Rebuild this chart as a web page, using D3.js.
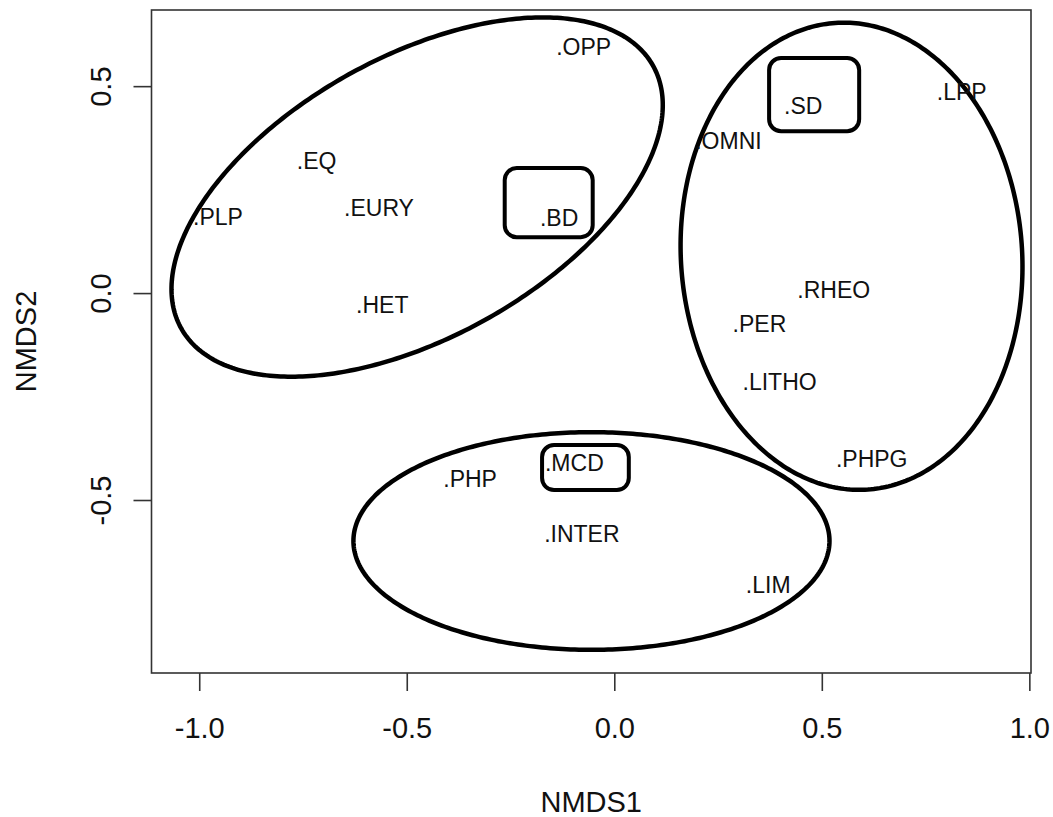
<!DOCTYPE html>
<html>
<head>
<meta charset="utf-8">
<script src="https://cdn.jsdelivr.net/npm/d3@7"></script>
<style>
  html, body { margin: 0; padding: 0; background: #fff; }
  svg { display: block; font-family: "Liberation Sans", Arial, Helvetica, sans-serif; }
</style>
</head>
<body>
<svg id="chart" width="1053" height="817"></svg>
<script>
// NMDS ordination of trait categories
const traitLabels = [".OPP", ".EQ", ".PLP", ".EURY", ".HET", ".BD", ".SD", ".LPP", ".OMNI",
                     ".RHEO", ".PER", ".LITHO", ".PHPG", ".PHP", ".MCD", ".INTER", ".LIM"];
const nmds1 = [-0.140, -0.765, -1.015, -0.651, -0.622, -0.179, 0.409, 0.777, 0.195,
               0.441, 0.285, 0.309, 0.534, -0.412, -0.167, -0.169, 0.317];
const nmds2 = [0.595, 0.319, 0.184, 0.207, -0.029, 0.181, 0.453, 0.486, 0.367,
               0.007, -0.075, -0.215, -0.401, -0.449, -0.411, -0.582, -0.705];

// group ellipses: centre, semi-axes (NMDS units), rotation (degrees)
const ellipseCx = [-0.475, 0.5716, -0.055];
const ellipseCy = [0.232, 0.089, -0.599];
const ellipseRx = [0.651, 0.411, 0.5735];
const ellipseRy = [0.339, 0.565, 0.263];
const ellipseRot = [29.2, 4, 0];

// highlighted traits: box corners (NMDS units)
const boxX0 = [-0.264, 0.373, -0.174];
const boxX1 = [-0.052, 0.590, 0.035];
const boxY0 = [0.135, 0.391, -0.476];
const boxY1 = [0.302, 0.568, -0.367];

const xTicks = [-1.0, -0.5, 0.0, 0.5, 1.0];
const yTicks = [-0.5, 0.0, 0.5];

const svg = d3.select("#chart");
const plotLeft = 151.5, plotRight = 1031, plotTop = 10, plotBottom = 673;

const x = d3.scaleLinear().domain([-1.115, 1.004]).range([plotLeft, plotRight]);
const y = d3.scaleLinear().domain([-0.918, 0.684]).range([plotBottom, plotTop]);

const fontSize = 29;
const tickFmt = d => d.toFixed(1);   // plain hyphen-minus, one decimal

// frame
svg.append("rect")
  .attr("x", plotLeft).attr("y", plotTop)
  .attr("width", plotRight - plotLeft).attr("height", plotBottom - plotTop)
  .attr("fill", "none").attr("stroke", "#333").attr("stroke-width", 1.6);

// x axis
const xAxis = d3.axisBottom(x).tickValues(xTicks).tickSize(18).tickPadding(26)
  .tickFormat(tickFmt);
const gx = svg.append("g").attr("transform", `translate(0,${plotBottom})`).call(xAxis);
gx.select(".domain").remove();
gx.selectAll(".tick line").attr("stroke", "#333").attr("stroke-width", 1.6);
gx.selectAll(".tick text").attr("font-size", fontSize).attr("fill", "#111")
  .attr("font-family", "Liberation Sans, Arial, sans-serif");

// y axis
const yAxis = d3.axisLeft(y).tickValues(yTicks).tickSize(18).tickPadding(0)
  .tickFormat(tickFmt);
const gy = svg.append("g").attr("transform", `translate(${plotLeft},0)`).call(yAxis);
gy.select(".domain").remove();
gy.selectAll(".tick line").attr("stroke", "#333").attr("stroke-width", 1.6);
gy.selectAll(".tick text")
  .attr("font-size", fontSize).attr("fill", "#111")
  .attr("font-family", "Liberation Sans, Arial, sans-serif")
  .attr("x", null).attr("dy", null)
  .attr("text-anchor", "middle")
  .attr("transform", "translate(-41,0) rotate(-90)");

// axis titles
svg.append("text")
  .attr("x", (plotLeft + plotRight) / 2).attr("y", 812)
  .attr("text-anchor", "middle").attr("font-size", fontSize).attr("fill", "#111")
  .text("NMDS1");
svg.append("text")
  .attr("transform", `translate(36,${(plotTop + plotBottom) / 2}) rotate(-90)`)
  .attr("text-anchor", "middle").attr("font-size", fontSize).attr("fill", "#111")
  .text("NMDS2");

// ellipses, traced in data space then mapped through the scales
const line = d3.line().x(d => x(d[0])).y(d => y(d[1])).curve(d3.curveLinearClosed);
ellipseCx.forEach((cx, i) => {
  const th = ellipseRot[i] * Math.PI / 180;
  const pts = d3.range(0, 360, 1).map(deg => {
    const t = deg * Math.PI / 180;
    const ex = ellipseRx[i] * Math.cos(t), ey = ellipseRy[i] * Math.sin(t);
    return [cx + ex * Math.cos(th) - ey * Math.sin(th),
            ellipseCy[i] + ex * Math.sin(th) + ey * Math.cos(th)];
  });
  svg.append("path").attr("d", line(pts))
    .attr("fill", "none").attr("stroke", "#000").attr("stroke-width", 4.5);
});

// rounded boxes
boxX0.forEach((bx, i) => {
  svg.append("rect")
    .attr("x", x(bx)).attr("y", y(boxY1[i]))
    .attr("width", x(boxX1[i]) - x(bx)).attr("height", y(boxY0[i]) - y(boxY1[i]))
    .attr("rx", 12).attr("ry", 12)
    .attr("fill", "none").attr("stroke", "#000").attr("stroke-width", 4);
});

// trait labels
svg.append("g").selectAll("text")
  .data(traitLabels)
  .join("text")
  .attr("x", (d, i) => x(nmds1[i]))
  .attr("y", (d, i) => y(nmds2[i]))
  .attr("dy", "0.36em")
  .attr("font-size", 23)
  .attr("fill", "#111")
  .text(d => d);
</script>
</body>
</html>
